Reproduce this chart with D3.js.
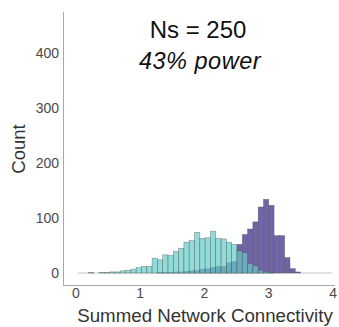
<!DOCTYPE html>
<html lang="en">
<head>
<meta charset="utf-8">
<title>Summed Network Connectivity</title>
<style>
  body { margin: 0; background: #fff; }
  text { font-family: "Liberation Sans", Arial, sans-serif; }
</style>
</head>
<body>
<svg width="339" height="327"></svg>
<script src="https://d3js.org/d3.v7.min.js"></script>
<script>

    // histogram bins: 48 bins starting at 0.03, width 0.0825
    var binStart = 0.03,
        binWidth = 0.0825;

    var tealCounts = [0, 0, 1, 0, 1, 1, 2, 2, 4, 5, 7, 10, 12, 12, 27, 24,
                      33, 32, 39, 45, 56, 59, 74, 63, 64, 76, 63, 62, 56, 52, 40, 37,
                      17, 13, 5, 2, 1, 0, 0, 0, 0, 0, 0, 0, 0, 0, 0, 0];

    var purpleCounts = [0, 0, 0, 0, 0, 0, 0, 0, 0, 0, 0, 0, 0, 0, 0, 1,
                        1, 1, 2, 2, 3, 4, 5, 7, 8, 10, 12, 12, 19, 21, 52, 70,
                        80, 93, 120, 134, 123, 68, 68, 28, 8, 2, 0, 0, 0, 0, 0, 0];

    var xTicks = [0, 1, 2, 3, 4],
        yTicks = [0, 100, 200, 300, 400];

    var titleLines = ["Ns = 250", "43% power"];

    var svg = d3.select("svg");

    var x = d3.scaleLinear().domain([-0.2, 4.03]).range([63, 335]);
    var y = d3.scaleLinear().domain([-21.8, 474.5]).range([285, 12]);

    function toBins(counts) {
        return counts.map(function(c, i) {
            return { x0: binStart + i * binWidth, x1: binStart + (i + 1) * binWidth, n: c };
        });
    }

    // baseline made by the empty bins
    svg.append("line")
        .attr("x1", x(binStart)).attr("x2", x(binStart + tealCounts.length * binWidth))
        .attr("y1", y(0)).attr("y2", y(0))
        .attr("stroke", "#c4c4c4").attr("stroke-width", 1);

    function drawBars(counts, fill, opacity) {
        svg.append("g")
            .selectAll("rect")
            .data(toBins(counts).filter(function(d) { return d.n > 0; }))
            .enter().append("rect")
            .attr("x", function(d) { return x(d.x0); })
            .attr("width", function(d) { return x(d.x1) - x(d.x0); })
            .attr("y", function(d) { return y(d.n); })
            .attr("height", function(d) { return y(0) - y(d.n); })
            .attr("fill", fill)
            .attr("fill-opacity", opacity)
            .attr("stroke", "#4a4a4a")
            .attr("stroke-opacity", 0.55)
            .attr("stroke-width", 0.6);
    }

    drawBars(purpleCounts, "#6a5ca3", 0.95);
    drawBars(tealCounts, "#62ccc7", 0.7);

    // spines
    svg.append("line")
        .attr("x1", 63.5).attr("x2", 63.5).attr("y1", 12).attr("y2", 285.5)
        .attr("stroke", "#a8a8a8").attr("stroke-width", 1);
    svg.append("line")
        .attr("x1", 63).attr("x2", 335).attr("y1", 285.5).attr("y2", 285.5)
        .attr("stroke", "#a8a8a8").attr("stroke-width", 1);

    // tick labels
    svg.append("g").selectAll("text")
        .data(yTicks).enter().append("text")
        .attr("x", 59)
        .attr("y", function(d) { return y(d); })
        .attr("dy", "0.35em")
        .attr("text-anchor", "end")
        .attr("font-size", 14)
        .attr("fill", "#4a4a4a")
        .text(function(d) { return d; });

    svg.append("g").selectAll("text")
        .data(xTicks).enter().append("text")
        .attr("x", function(d) { return x(d); })
        .attr("y", 298)
        .attr("text-anchor", "middle")
        .attr("font-size", 14)
        .attr("fill", "#4a4a4a")
        .text(function(d) { return d; });

    // axis titles
    svg.append("text")
        .attr("x", 205).attr("y", 322)
        .attr("text-anchor", "middle")
        .attr("font-size", 18.7)
        .attr("fill", "#333")
        .text("Summed Network Connectivity");

    svg.append("text")
        .attr("transform", "translate(25,149) rotate(-90)")
        .attr("text-anchor", "middle")
        .attr("font-size", 18.5)
        .attr("fill", "#333")
        .text("Count");

    // title
    svg.append("text")
        .attr("x", 198).attr("y", 37.5)
        .attr("text-anchor", "middle")
        .attr("font-size", 24)
        .attr("fill", "#111")
        .text(titleLines[0]);

    svg.append("text")
        .attr("x", 200).attr("y", 68.5)
        .attr("text-anchor", "middle")
        .attr("font-size", 23.5)
        .attr("font-style", "italic")
        .attr("letter-spacing", 0.5)
        .attr("fill", "#111")
        .text(titleLines[1]);
</script>
</body>
</html>
